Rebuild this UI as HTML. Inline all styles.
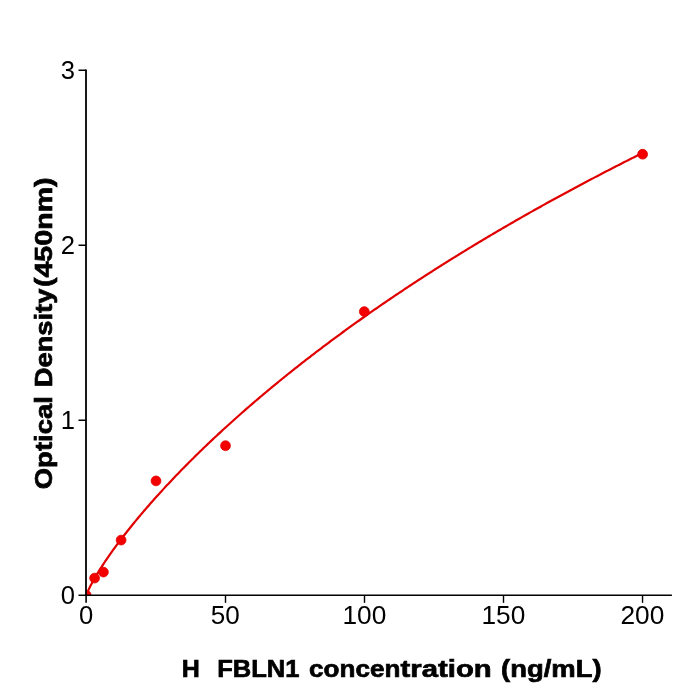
<!DOCTYPE html>
<html><head><meta charset="utf-8"><title>chart</title>
<style>
html,body{margin:0;padding:0;background:#fff;}
body{width:700px;height:700px;overflow:hidden;font-family:"Liberation Sans",sans-serif;}
svg{display:block;will-change:transform;}
text{font-family:"Liberation Sans",sans-serif;fill:#000;}
.t{font-size:25.6px;}
.b{font-size:24.4px;font-weight:bold;stroke:#000;stroke-width:0.7px;}
</style></head><body>
<svg width="700" height="700" viewBox="0 0 700 700">
<rect width="700" height="700" fill="#fff"/>
<defs><clipPath id="ax"><rect x="86" y="60" width="590" height="535"/></clipPath></defs>
<!-- curve -->
<path d="M86.20,595.94 L86.90,593.72 L87.59,591.98 L88.29,590.39 L88.98,588.88 L89.68,587.44 L90.37,586.06 L91.07,584.71 L91.76,583.39 L92.46,582.10 L93.15,580.84 L93.85,579.60 L94.54,578.38 L95.24,577.18 L95.93,576.00 L96.63,574.83 L97.33,573.67 L98.02,572.53 L98.72,571.40 L99.41,570.29 L100.11,569.18 L100.80,568.09 L101.50,567.00 L102.19,565.92 L102.89,564.86 L103.58,563.80 L104.28,562.75 L104.97,561.71 L105.67,560.67 L106.37,559.64 L107.06,558.62 L107.76,557.61 L108.45,556.60 L109.15,555.60 L109.84,554.61 L110.54,553.62 L111.23,552.64 L111.93,551.66 L112.62,550.69 L113.32,549.72 L114.01,548.76 L115.40,546.85 L116.80,544.96 L118.19,543.09 L119.58,541.24 L120.97,539.40 L122.36,537.58 L123.75,535.78 L125.14,533.99 L126.53,532.21 L127.92,530.45 L129.31,528.70 L130.70,526.96 L132.09,525.24 L133.48,523.53 L134.87,521.83 L136.27,520.14 L137.66,518.46 L139.05,516.79 L140.44,515.14 L141.83,513.49 L143.22,511.85 L144.61,510.23 L146.00,508.61 L147.39,507.00 L148.78,505.41 L150.17,503.82 L151.56,502.24 L152.95,500.66 L154.34,499.10 L155.74,497.54 L157.13,495.99 L158.52,494.45 L159.91,492.92 L161.30,491.40 L162.69,489.88 L164.08,488.37 L165.47,486.87 L166.86,485.37 L168.25,483.88 L169.64,482.40 L171.03,480.93 L172.42,479.46 L173.81,477.99 L175.20,476.54 L176.60,475.09 L177.99,473.65 L179.38,472.21 L180.77,470.78 L182.16,469.35 L183.55,467.93 L184.94,466.52 L186.33,465.11 L187.72,463.71 L189.11,462.31 L190.50,460.92 L191.89,459.54 L193.28,458.16 L194.67,456.78 L196.07,455.41 L197.46,454.05 L198.85,452.69 L200.24,451.33 L201.63,449.98 L203.02,448.64 L204.41,447.30 L205.80,445.96 L207.19,444.63 L208.58,443.31 L209.97,441.99 L211.36,440.67 L212.75,439.36 L214.14,438.05 L215.54,436.75 L216.93,435.45 L218.32,434.16 L219.71,432.87 L221.10,431.58 L222.49,430.30 L223.88,429.03 L225.27,427.75 L226.66,426.49 L228.05,425.22 L229.44,423.96 L230.83,422.70 L232.22,421.45 L233.61,420.20 L235.00,418.96 L236.40,417.72 L237.79,416.48 L239.18,415.25 L240.57,414.02 L241.96,412.79 L243.35,411.57 L244.74,410.35 L246.13,409.14 L247.52,407.93 L248.91,406.72 L250.30,405.52 L251.69,404.32 L253.08,403.12 L254.47,401.93 L255.87,400.74 L257.26,399.55 L258.65,398.37 L260.04,397.19 L261.43,396.01 L262.82,394.84 L264.21,393.67 L265.60,392.50 L266.99,391.34 L268.38,390.18 L269.77,389.02 L271.16,387.87 L272.55,386.72 L273.94,385.57 L275.34,384.42 L276.73,383.28 L278.12,382.14 L279.51,381.01 L280.90,379.88 L282.29,378.75 L283.68,377.62 L285.07,376.50 L286.46,375.38 L287.85,374.26 L289.24,373.14 L290.63,372.03 L292.02,370.92 L293.41,369.82 L294.80,368.71 L296.20,367.61 L297.59,366.52 L298.98,365.42 L300.37,364.33 L301.76,363.24 L303.15,362.15 L304.54,361.07 L305.93,359.99 L307.32,358.91 L308.71,357.83 L310.10,356.76 L311.49,355.69 L312.88,354.62 L314.27,353.55 L315.67,352.49 L317.06,351.43 L318.45,350.37 L319.84,349.32 L321.23,348.26 L322.62,347.21 L324.01,346.17 L325.40,345.12 L326.79,344.08 L328.18,343.04 L329.57,342.00 L330.96,340.96 L332.35,339.93 L333.74,338.90 L335.14,337.87 L336.53,336.84 L337.92,335.82 L339.31,334.80 L340.70,333.78 L342.09,332.76 L343.48,331.74 L344.87,330.73 L346.26,329.72 L347.65,328.71 L349.04,327.71 L350.43,326.70 L351.82,325.70 L353.21,324.70 L354.61,323.71 L356.00,322.71 L357.39,321.72 L358.78,320.73 L360.17,319.74 L361.56,318.75 L362.95,317.77 L364.34,316.79 L365.73,315.81 L367.12,314.83 L368.51,313.86 L369.90,312.88 L371.29,311.91 L372.68,310.94 L374.07,309.97 L375.47,309.01 L376.86,308.05 L378.25,307.08 L379.64,306.12 L381.03,305.17 L382.42,304.21 L383.81,303.26 L385.20,302.31 L386.59,301.36 L387.98,300.41 L389.37,299.47 L390.76,298.52 L392.15,297.58 L393.54,296.64 L394.94,295.70 L396.33,294.77 L397.72,293.83 L399.11,292.90 L400.50,291.97 L401.89,291.04 L403.28,290.12 L404.67,289.19 L406.06,288.27 L407.45,287.35 L408.84,286.43 L410.23,285.51 L411.62,284.59 L413.01,283.68 L414.41,282.77 L415.80,281.86 L417.19,280.95 L418.58,280.04 L419.97,279.14 L421.36,278.24 L422.75,277.33 L424.14,276.43 L425.53,275.54 L426.92,274.64 L428.31,273.75 L429.70,272.85 L431.09,271.96 L432.48,271.07 L433.87,270.19 L435.27,269.30 L436.66,268.42 L438.05,267.53 L439.44,266.65 L440.83,265.77 L442.22,264.89 L443.61,264.02 L445.00,263.14 L446.39,262.27 L447.78,261.40 L449.17,260.53 L450.56,259.66 L451.95,258.80 L453.34,257.93 L454.74,257.07 L456.13,256.21 L457.52,255.35 L458.91,254.49 L460.30,253.63 L461.69,252.78 L463.08,251.92 L464.47,251.07 L465.86,250.22 L467.25,249.37 L468.64,248.52 L470.03,247.68 L471.42,246.83 L472.81,245.99 L474.21,245.15 L475.60,244.31 L476.99,243.47 L478.38,242.63 L479.77,241.80 L481.16,240.96 L482.55,240.13 L483.94,239.30 L485.33,238.47 L486.72,237.64 L488.11,236.81 L489.50,235.99 L490.89,235.17 L492.28,234.34 L493.68,233.52 L495.07,232.70 L496.46,231.88 L497.85,231.07 L499.24,230.25 L500.63,229.44 L502.02,228.63 L503.41,227.81 L504.80,227.00 L506.19,226.20 L507.58,225.39 L508.97,224.58 L510.36,223.78 L511.75,222.98 L513.14,222.18 L514.54,221.37 L515.93,220.58 L517.32,219.78 L518.71,218.98 L520.10,218.19 L521.49,217.39 L522.88,216.60 L524.27,215.81 L525.66,215.02 L527.05,214.23 L528.44,213.45 L529.83,212.66 L531.22,211.88 L532.61,211.09 L534.01,210.31 L535.40,209.53 L536.79,208.75 L538.18,207.98 L539.57,207.20 L540.96,206.42 L542.35,205.65 L543.74,204.88 L545.13,204.11 L546.52,203.33 L547.91,202.57 L549.30,201.80 L550.69,201.03 L552.08,200.27 L553.48,199.50 L554.87,198.74 L556.26,197.98 L557.65,197.22 L559.04,196.46 L560.43,195.70 L561.82,194.94 L563.21,194.19 L564.60,193.43 L565.99,192.68 L567.38,191.93 L568.77,191.18 L570.16,190.43 L571.55,189.68 L572.94,188.93 L574.34,188.19 L575.73,187.44 L577.12,186.70 L578.51,185.96 L579.90,185.22 L581.29,184.48 L582.68,183.74 L584.07,183.00 L585.46,182.26 L586.85,181.53 L588.24,180.79 L589.63,180.06 L591.02,179.33 L592.41,178.60 L593.81,177.87 L595.20,177.14 L596.59,176.41 L597.98,175.68 L599.37,174.96 L600.76,174.23 L602.15,173.51 L603.54,172.79 L604.93,172.07 L606.32,171.35 L607.71,170.63 L609.10,169.91 L610.49,169.19 L611.88,168.48 L613.28,167.76 L614.67,167.05 L616.06,166.34 L617.45,165.63 L618.84,164.92 L620.23,164.21 L621.62,163.50 L623.01,162.79 L624.40,162.09 L625.79,161.38 L627.18,160.68 L628.57,159.97 L629.96,159.27 L631.35,158.57 L632.75,157.87 L634.14,157.17 L635.53,156.48 L636.92,155.78 L638.31,155.08 L639.70,154.39 L641.09,153.70 L642.48,153.00" fill="none" stroke="#e10000" stroke-width="2.2" stroke-linejoin="round" stroke-linecap="butt"/>
<!-- points -->
<g fill="#f30000" stroke="#e10000" stroke-width="0.8">
<circle cx="86.2" cy="595.25" r="4.9" clip-path="url(#ax)"/>
<circle cx="94.6" cy="578.1" r="4.9"/>
<circle cx="103.4" cy="572.1" r="4.9"/>
<circle cx="121.1" cy="540.1" r="4.9"/>
<circle cx="156.0" cy="480.9" r="4.9"/>
<circle cx="225.5" cy="445.7" r="4.9"/>
<circle cx="364.3" cy="311.6" r="4.9"/>
<circle cx="642.6" cy="154.2" r="4.9"/>
</g>
<!-- spines -->
<g stroke="#000" fill="none" stroke-linecap="butt">
<line x1="86" y1="69.4" x2="86" y2="596" stroke-width="1.8"/>
<line x1="85.2" y1="595.27" x2="671.9" y2="595.27" stroke-width="1.55"/>
<!-- y ticks -->
<g stroke-width="1.5">
<line x1="78.5" y1="70.25" x2="86" y2="70.25"/>
<line x1="78.5" y1="245.25" x2="86" y2="245.25"/>
<line x1="78.5" y1="420.25" x2="86" y2="420.25"/>
<line x1="78.5" y1="595.25" x2="86" y2="595.25"/>
</g>
<!-- x ticks -->
<g stroke-width="1.4">
<line x1="86.1" y1="595" x2="86.1" y2="602.85" stroke-width="1.6"/>
<line x1="225.5" y1="595" x2="225.5" y2="602.85"/>
<line x1="364.5" y1="595" x2="364.5" y2="602.85"/>
<line x1="503.5" y1="595" x2="503.5" y2="602.85"/>
<line x1="642.55" y1="595" x2="642.55" y2="602.85"/>
</g>
</g>
<!-- y tick labels -->
<g class="t" text-anchor="end">
<text x="74.9" y="78.7">3</text>
<text x="74.9" y="253.7">2</text>
<text x="74.9" y="428.7">1</text>
<text x="74.9" y="603.7">0</text>
</g>
<!-- x tick labels -->
<g class="t" text-anchor="middle">
<text x="86.1" y="623.7">0</text>
<text x="225.3" y="623.7" textLength="29.0" lengthAdjust="spacingAndGlyphs">50</text>
<text x="364.4" y="623.7" textLength="43.8" lengthAdjust="spacingAndGlyphs">100</text>
<text x="503.4" y="623.7" textLength="43.8" lengthAdjust="spacingAndGlyphs">150</text>
<text x="642.4" y="623.7" textLength="43.8" lengthAdjust="spacingAndGlyphs">200</text>
</g>
<!-- x label -->
<g class="b">
<text x="181.67" y="677.45" textLength="18.05" lengthAdjust="spacingAndGlyphs">H</text>
<text x="217.24" y="677.45" textLength="82.19" lengthAdjust="spacingAndGlyphs">FBLN1</text>
<text x="309.11" y="677.45" textLength="91.24" lengthAdjust="spacingAndGlyphs">concen</text>
<text x="400.63" y="677.45" textLength="91.03" lengthAdjust="spacingAndGlyphs">tration</text>
<text x="501.04" y="677.45" textLength="100.49" lengthAdjust="spacingAndGlyphs">(ng/mL)</text>
<!-- y label -->
<text transform="translate(51.6,489.23) rotate(-90)" x="0" y="0" textLength="93.07" lengthAdjust="spacingAndGlyphs">Optical</text>
<text transform="translate(51.6,387.17) rotate(-90)" x="0" y="0" textLength="98.53" lengthAdjust="spacingAndGlyphs">Density</text>
<text transform="translate(51.6,287.07) rotate(-90)" x="0" y="0" textLength="109.68" lengthAdjust="spacingAndGlyphs">(450nm)</text>
</g>
</svg>
</body></html>
